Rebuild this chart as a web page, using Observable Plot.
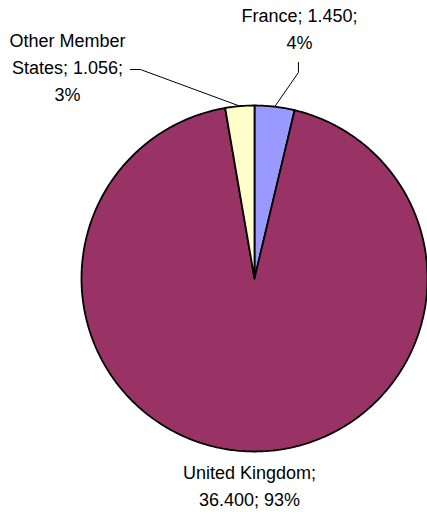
<!DOCTYPE html>
<html>
<head>
<meta charset="utf-8">
<script src="https://cdn.jsdelivr.net/npm/d3@7"></script>
<script src="https://cdn.jsdelivr.net/npm/@observablehq/plot@0.6"></script>
<style>
  html, body { margin: 0; padding: 0; background: #fff; }
  #chart svg { display: block; }
</style>
</head>
<body>
<div id="chart"></div>
<script>
// ---- data ----
const names = ["France", "United Kingdom", "Other Member States"];
const values = [1.450, 36.400, 1.056];
const valueLabels = ["1.450", "36.400", "1.056"];
const percentLabels = ["4%", "93%", "3%"];
const sliceColors = ["#9999FF", "#993366", "#FFFFCC"];
const labelTexts = [
  "France; 1.450;\n4%",
  "United Kingdom;\n36.400; 93%",
  "Other Member\nStates; 1.056;\n3%"
];

// ---- layout (data units of a unit-radius pie) ----
const labelPos = [
  {x: 0.26, y: 1.455},
  {x: -0.029, y: -1.188},
  {x: -1.081, y: 1.232}
];
// leader line elbows: [elbow, end] or null
const leaders = [
  [{x: 0.254, y: 1.191}, {x: 0.254, y: 1.249}],
  null,
  [{x: -0.659, y: 1.208}, {x: -0.717, y: 1.208}]
];

const data = names.map((n, i) => ({name: n, value: values[i]}));
const arcs = d3.pie().sort(null).value(d => d.value)(data);

// slice outlines
const slicePts = [];
arcs.forEach(a => {
  const n = Math.max(4, Math.ceil((a.endAngle - a.startAngle) / 0.01));
  slicePts.push({name: a.data.name, x: 0, y: 0});
  for (let k = 0; k <= n; k++) {
    const t = a.startAngle + (a.endAngle - a.startAngle) * k / n;
    slicePts.push({name: a.data.name, x: Math.sin(t), y: Math.cos(t)});
  }
  slicePts.push({name: a.data.name, x: 0, y: 0});
});

// leader lines
const leaderPts = [];
arcs.forEach((a, i) => {
  if (!leaders[i]) return;
  const m = (a.startAngle + a.endAngle) / 2;
  leaderPts.push({name: a.data.name, x: Math.sin(m), y: Math.cos(m)});
  leaders[i].forEach(p => leaderPts.push({name: a.data.name, x: p.x, y: p.y}));
});

const labels = names.map((n, i) => ({name: n, text: labelTexts[i], x: labelPos[i].x, y: labelPos[i].y}));

const chart = Plot.plot({
  width: 427,
  height: 515,
  margin: 0,
  style: {background: "#fff", fontFamily: "'Liberation Sans', Arial, sans-serif", overflow: "visible"},
  x: {domain: [-1, 1], range: [81, 427], axis: null},
  y: {domain: [-1, 1], range: [451, 105], axis: null},
  color: {domain: names, range: sliceColors},
  marks: [
    Plot.line(slicePts, {x: "x", y: "y", z: "name", fill: "name", stroke: "#000", strokeWidth: 1.8, strokeLinejoin: "miter"}),
    Plot.line(leaderPts, {x: "x", y: "y", z: "name", stroke: "#000", strokeWidth: 1}),
    Plot.text(labels, {x: "x", y: "y", text: "text", fontSize: 18, lineHeight: 1.5, fill: "#000", textAnchor: "middle"})
  ]
});
document.getElementById("chart").appendChild(chart);
</script>
</body>
</html>
